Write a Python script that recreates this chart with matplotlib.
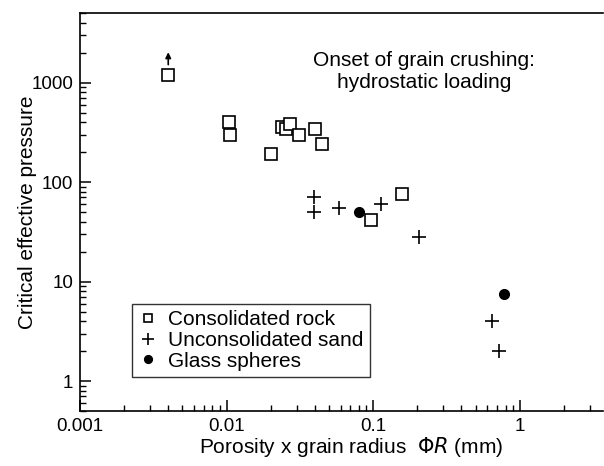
import matplotlib
matplotlib.use("Agg")
import matplotlib.pyplot as plt
from matplotlib.ticker import FixedLocator, FixedFormatter, LogLocator, NullFormatter

plt.rcParams['font.family'] = ['Liberation Sans', 'DejaVu Sans']

# consolidated rock
rock_x = [0.004, 0.0104, 0.0106, 0.0202, 0.024, 0.0255, 0.0271, 0.0311, 0.040, 0.0447, 0.158, 0.0973]
rock_y = [1200, 400, 300, 190, 360, 340, 380, 300, 340, 240, 75, 42]
# unconsolidated sand
sand_x = [0.0396, 0.0396, 0.0586, 0.1135, 0.204, 0.649, 0.724]
sand_y = [70, 50, 55, 60, 28, 4, 2]
# glass spheres
glass_x = [0.0802, 0.783]
glass_y = [50, 7.5]

xticks = [0.001, 0.01, 0.1, 1]
xlabels = ["0.001", "0.01", "0.1", "1"]
yticks = [1, 10, 100, 1000]
ylabels = ["1", "10", "100", "1000"]

fig = plt.figure(figsize=(6.04, 4.66), dpi=100)
ax = fig.add_axes([80 / 604, 55 / 466, 523 / 604, 398 / 466])
ax.set_xscale("log")
ax.set_yscale("log")

ax.plot(rock_x, rock_y, "s", mfc="white", mec="black", mew=1.2, ms=8, ls="none", label="Consolidated rock")
ax.plot(sand_x, sand_y, "+", color="black", mew=1.2, ms=10, ls="none", label="Unconsolidated sand")
ax.plot(glass_x, glass_y, "o", color="black", ms=7, ls="none", label="Glass spheres")

# lower bound arrow on first rock point
ax.annotate("", xy=(rock_x[0], 2150), xytext=(rock_x[0], 1420),
            arrowprops=dict(arrowstyle="-|>", color="black", lw=1.2, mutation_scale=8))

ax.set_xlim(0.001, 3.7)
ax.set_ylim(0.5, 5000)

ax.xaxis.set_major_locator(FixedLocator(xticks))
ax.xaxis.set_major_formatter(FixedFormatter(xlabels))
ax.yaxis.set_major_locator(FixedLocator(yticks))
ax.yaxis.set_major_formatter(FixedFormatter(ylabels))
ax.xaxis.set_minor_locator(LogLocator(base=10, subs=range(2, 10), numticks=20))
ax.yaxis.set_minor_locator(LogLocator(base=10, subs=range(2, 10), numticks=20))
ax.xaxis.set_minor_formatter(NullFormatter())
ax.yaxis.set_minor_formatter(NullFormatter())
ax.tick_params(which="major", direction="in", length=8, width=1.1, labelsize=13.5, pad=5)
ax.tick_params(which="minor", direction="in", length=4, width=1.0)
ax.tick_params(top=False, right=False)

for s in ax.spines.values():
    s.set_linewidth(1.2)
ax.spines["right"].set_visible(False)

ax.set_xlabel(r"Porosity x grain radius  $\Phi$$\mathit{R}$ (mm)", fontsize=15, labelpad=0)
ax.xaxis.label.set_x(0.518)
ax.set_ylabel("Critical effective pressure", fontsize=15, labelpad=-4)

ax.text(0.658, 0.853, "Onset of grain crushing:\nhydrostatic loading", transform=ax.transAxes,
        ha="center", va="center", fontsize=15, linespacing=1.22)

leg = ax.legend(loc="lower left", bbox_to_anchor=(0.099, 0.086), borderaxespad=0, fontsize=15,
                frameon=True, fancybox=False, edgecolor="black", handlelength=1.0,
                handletextpad=0.45, labelspacing=0.08, borderpad=0.3, markerscale=0.8)
leg.get_frame().set_linewidth(1.0)

fig.savefig("out.png", dpi=100)
